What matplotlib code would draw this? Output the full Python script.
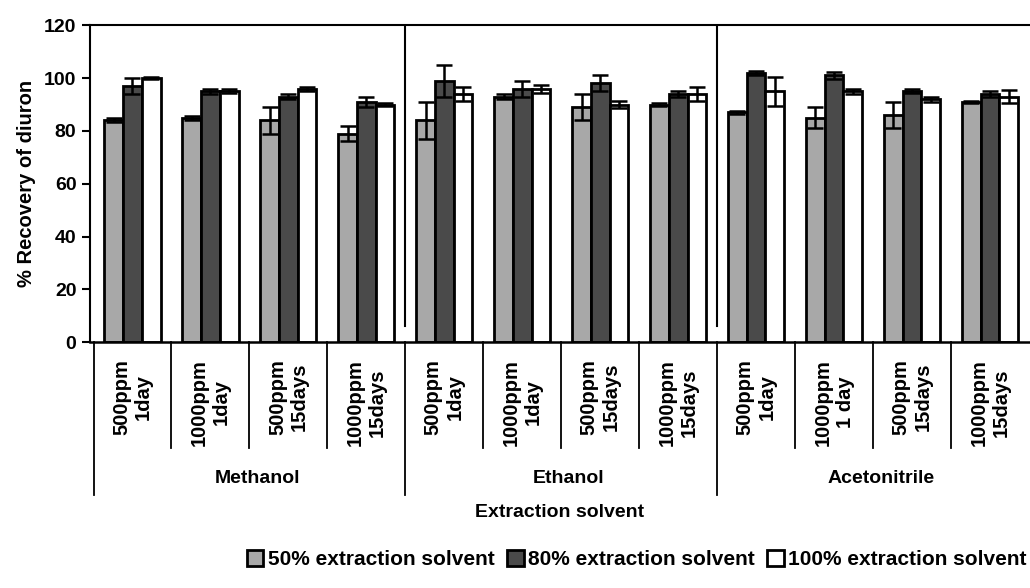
import numpy as np
import matplotlib.pyplot as plt

# --- Data ---
solvents = ['Methanol', 'Ethanol', 'Acetonitrile']
conditions = ['500ppm\n1day', '1000ppm\n1day', '500ppm\n15days', '1000ppm\n15days']
conditions_acn = ['500ppm\n1day', '1000ppm\n1 day', '500ppm\n15days', '1000ppm\n15days']
tick_labels = conditions + conditions + conditions_acn

series_names = ['50% extraction solvent', '80% extraction solvent', '100% extraction solvent']
rec_50 = [84, 85, 84, 79, 84, 93, 89, 90, 87, 85, 86, 91]
rec_80 = [97, 95, 93, 91, 99, 96, 98, 94, 102, 101, 95, 94]
rec_100 = [100, 95, 96, 90, 94, 96, 90, 94, 95, 95, 92, 93]
err_50 = [0.8, 0.8, 5, 3, 7, 0.8, 5, 0.5, 0.5, 4, 5, 0.5]
err_80 = [3, 1, 0.8, 2, 6, 3, 3, 1, 0.8, 1.5, 0.8, 1]
err_100 = [0.3, 0.8, 0.8, 0.5, 2.5, 1.5, 1.5, 2.5, 5.5, 1, 1, 2.5]

colors = ['#a8a8a8', '#4a4a4a', '#ffffff']

plt.rcParams['font.family'] = ['Liberation Sans', 'DejaVu Sans']
plt.rcParams['font.weight'] = 'bold'

fig = plt.figure(figsize=(10.3, 5.88), dpi=100)
ax = fig.add_axes([0.087, 0.418, 0.912, 0.539])

x = np.arange(len(tick_labels))
w = 0.24
vals = [rec_50, rec_80, rec_100]
errs = [err_50, err_80, err_100]
for i in range(3):
    ax.bar(x + (i - 1) * w, vals[i], w, yerr=errs[i], color=colors[i], edgecolor='black',
           linewidth=2, label=series_names[i], capsize=6,
           error_kw=dict(elinewidth=1.8, capthick=1.8, ecolor='black'))

ax.set_xlim(-0.55, 11.5)
ax.set_ylim(0, 120)
ax.set_yticks(np.arange(0, 121, 20))
ax.tick_params(axis='y', labelsize=14, length=6, width=1.5, direction='out')
plt.setp(ax.get_yticklabels(), fontweight='bold')
ax.set_ylabel('% Recovery of diuron', fontsize=14.5, fontweight='bold', labelpad=6)
ax.spines['right'].set_visible(False)
ax.spines['left'].set_linewidth(1.5)
ax.spines['top'].set_linewidth(1.5)
ax.spines['bottom'].set_linewidth(1.8)

# category axis (two levels)
ax.set_xticks(x)
ax.set_xticklabels(tick_labels, rotation=90, fontsize=14.5, fontweight='bold',
                   va='top', ha='center', multialignment='center')
ax.tick_params(axis='x', length=0, pad=12)

trans = ax.get_xaxis_transform()
for b in np.arange(-0.5, 11.5, 1.0):
    if b in (-0.5, 3.5, 7.5):
        ax.plot([b, b], [0, -0.483], transform=trans, color='black', lw=1.3, clip_on=False)
    else:
        ax.plot([b, b], [0, -0.334], transform=trans, color='black', lw=1.3, clip_on=False)

# separators inside plot
for b in (3.5, 7.5):
    ax.plot([b, b], [6, 120], color='black', lw=1.5)

for k, s in enumerate(solvents):
    ax.text(4 * k + 1.6, -0.43, s, transform=trans, ha='center', va='center',
            fontsize=14, fontweight='bold')
ax.text(0.5, -0.536, 'Extraction solvent', transform=ax.transAxes, ha='center',
        va='center', fontsize=14, fontweight='bold')

fig.legend(loc='lower center', bbox_to_anchor=(0.618, 0.0), ncol=3, frameon=False,
           handlelength=0.8, handleheight=0.8, handletextpad=0.2,
           columnspacing=0.6, prop={'weight': 'bold', 'size': 15})

fig.savefig('out.png', dpi=100)
